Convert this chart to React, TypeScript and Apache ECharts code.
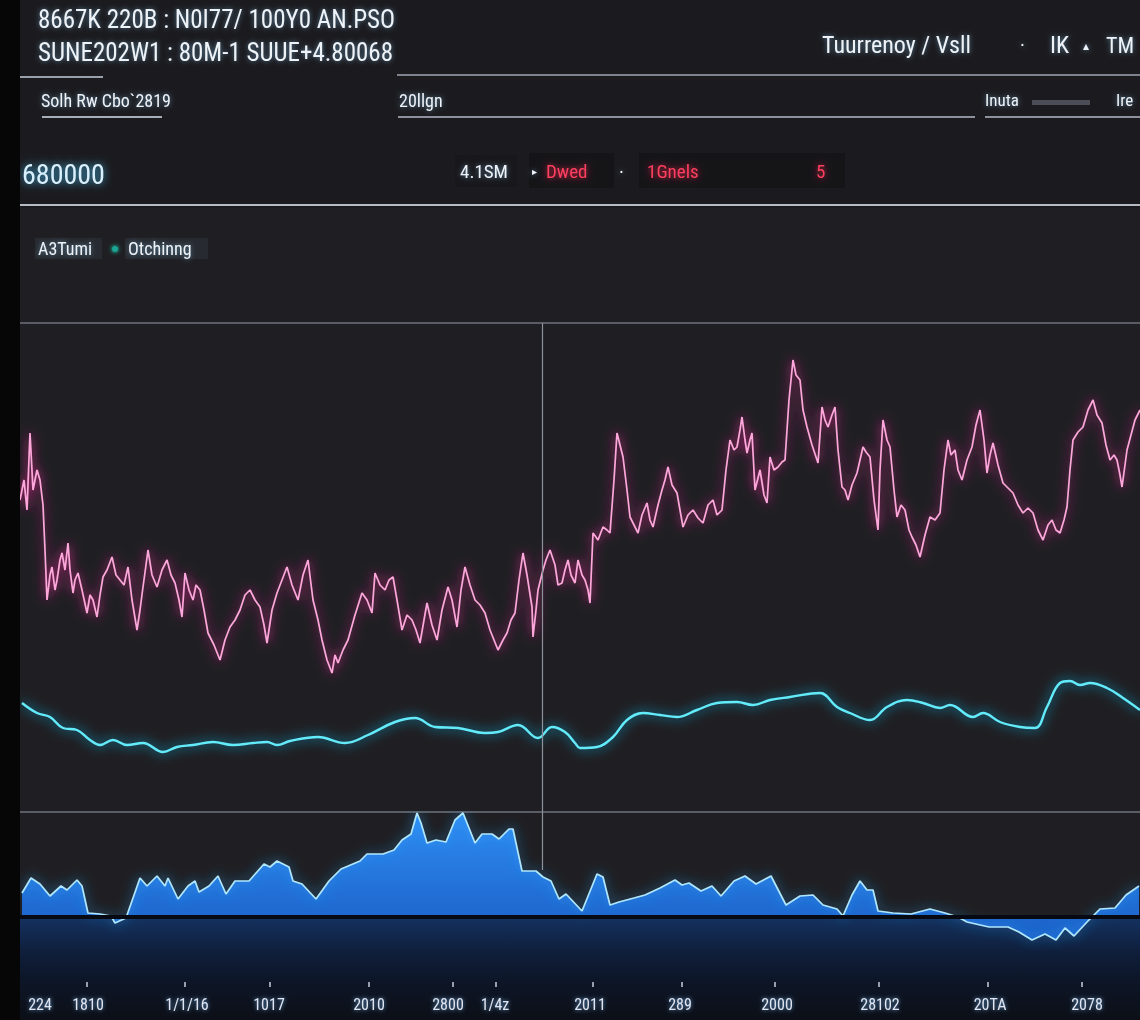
import React, { useEffect, useRef } from "react";
import * as echarts from "echarts";

// ---------- DATA ----------
// price series (pink): [day, price]
const price: [number, number][] = [
  [20,312],[24,332],[27,302],[30,379],[33,322],[37,342],[40,332],[43,307],[45,262],[47,212],[50,237],[52,245],[55,222],[57,232],[60,252],[62,259],[65,242],[68,269],[70,242],[73,219],[75,232],[78,239],[82,222],[87,199],[90,217],[93,212],[97,195],[100,217],[103,235],[107,242],[112,255],[116,237],[120,232],[124,227],[128,245],[132,212],[137,182],[140,202],[143,225],[146,247],[148,262],[152,237],[157,225],[162,242],[167,252],[171,237],[175,229],[179,212],[182,195],[185,239],[189,222],[193,212],[196,227],[200,222],[204,202],[208,179],[214,167],[220,152],[225,172],[230,185],[235,192],[240,202],[245,217],[250,222],[255,212],[260,205],[264,187],[267,169],[272,202],[277,219],[282,232],[287,245],[292,227],[298,212],[303,237],[308,252],[313,212],[318,192],[322,172],[327,152],[332,139],[335,157],[338,149],[343,162],[348,172],[355,197],[362,219],[367,212],[372,199],[375,239],[380,227],[385,222],[389,232],[393,235],[397,212],[402,182],[407,197],[412,192],[416,182],[420,169],[424,192],[427,209],[432,187],[437,172],[442,202],[448,225],[452,212],[457,185],[461,222],[465,245],[470,227],[475,212],[480,207],[485,199],[490,182],[494,172],[498,162],[503,172],[507,179],[511,192],[515,199],[519,232],[523,259],[527,237],[532,205],[533,175],[536,202],[538,222],[543,242],[546,252],[550,262],[555,247],[558,227],[562,229],[565,242],[568,252],[571,237],[575,229],[578,252],[582,237],[585,232],[588,222],[590,209],[593,279],[598,272],[603,285],[607,282],[610,279],[614,332],[617,379],[620,367],[623,355],[627,322],[630,295],[634,287],[638,279],[642,297],[647,309],[650,292],[653,285],[658,307],[662,322],[665,332],[668,345],[672,327],[677,319],[680,302],[683,285],[688,297],[693,302],[698,294],[703,289],[708,307],[713,312],[717,297],[722,302],[726,342],[730,372],[734,362],[737,365],[740,382],[742,395],[745,372],[747,359],[750,372],[752,379],[755,322],[760,342],[764,317],[767,309],[770,355],[774,342],[778,345],[782,350],[785,352],[789,412],[793,452],[796,437],[800,432],[803,402],[807,385],[812,367],[818,349],[822,405],[825,392],[828,385],[832,397],[835,405],[838,362],[842,325],[845,322],[848,312],[852,327],[857,339],[860,352],[863,365],[866,360],[870,355],[874,312],[878,282],[880,342],[883,392],[887,372],[890,365],[894,322],[897,295],[901,307],[905,302],[909,282],[912,275],[916,267],[920,255],[925,277],[930,295],[935,292],[940,299],[944,342],[948,372],[951,357],[955,362],[958,342],[962,332],[967,352],[972,365],[976,387],[980,402],[984,372],[987,339],[990,357],[993,369],[998,347],[1003,329],[1008,324],[1013,319],[1018,307],[1023,299],[1028,304],[1033,299],[1038,282],[1043,272],[1048,287],[1052,292],[1056,282],[1060,279],[1064,292],[1067,305],[1070,342],[1073,372],[1078,380],[1083,385],[1088,402],[1093,412],[1097,397],[1102,389],[1106,367],[1110,352],[1114,357],[1117,352],[1120,337],[1122,325],[1125,347],[1127,362],[1131,377],[1135,392],[1140,402]
];

// trend series (cyan): [day, value]
const trend: [number, number][] = [
  [22,109],[37,99],[50,95],[63,84],[77,82],[90,72],[100,67],[113,72],[127,67],[143,69],[163,60],[177,65],[193,67],[213,70],[233,67],[253,69],[267,70],[277,67],[290,71],[318,75],[345,69],[368,77],[395,90],[415,94],[435,85],[458,84],[485,79],[498,80],[518,87],[538,74],[552,85],[565,80],[575,69],[580,64],[597,65],[613,75],[627,92],[643,99],[660,97],[677,95],[697,102],[717,109],[737,110],[753,107],[770,112],[790,115],[820,119],[837,105],[850,99],[870,92],[887,105],[907,112],[923,109],[940,104],[950,107],[973,95],[983,99],[1000,90],[1020,85],[1035,84],[1047,105],[1060,129],[1070,131],[1080,127],[1090,129],[1107,124],[1123,114],[1140,102]
];

// volume series (blue area): [day, volume]
const volume: [number, number][] = [
  [22,24],[31,39],[40,33],[50,21],[61,31],[67,27],[77,37],[82,31],[88,4],[100,3],[111,1],[115,-6],[126,-1],[140,39],[147,31],[157,41],[165,31],[168,39],[178,18],[188,31],[195,36],[199,25],[209,31],[218,41],[226,23],[235,36],[249,36],[264,53],[270,50],[277,56],[289,50],[293,36],[302,33],[316,18],[329,36],[341,48],[360,56],[367,63],[383,63],[394,67],[402,77],[411,83],[417,104],[421,94],[427,74],[436,77],[446,75],[455,97],[463,104],[475,74],[482,83],[492,83],[499,78],[509,88],[513,88],[522,46],[536,46],[543,40],[551,36],[559,18],[566,23],[582,6],[597,43],[603,40],[610,12],[619,15],[634,19],[645,22],[660,29],[675,37],[682,32],[689,34],[701,26],[712,31],[721,21],[734,36],[745,41],[756,33],[771,41],[786,12],[800,21],[813,22],[823,12],[837,8],[843,1],[852,22],[860,36],[867,27],[873,27],[878,6],[893,4],[911,3],[930,8],[945,4],[958,0],[967,-5],[989,-10],[1008,-10],[1019,-15],[1032,-23],[1045,-17],[1056,-23],[1065,-11],[1074,-19],[1087,-5],[1100,8],[1115,9],[1126,22],[1139,31]
];

const tickDays = [87, 185, 270, 369, 453, 496, 593, 682, 775, 879, 988, 1082];
const labelDays = [40, 88, 187, 269, 369, 448, 495, 590, 680, 777, 880, 990, 1087];
const tickLabels = ["224", "1810", "1/1/16", "1017", "2010", "2800", "1/4z", "2011", "289", "2000", "28102", "20TA", "2078"];
const crosshairDay = 542;

const headerLine1 = "8667K 220B : N0I77/ 100Y0 AN.PSO";
const headerLine2 = "SUNE202W1 : 80M-1 SUUE+4.80068";
const headerRight = ["Tuurrenoy / Vsll", "·", "IK", "▴", "TM"];
const subRow = ["Solh Rw Cbo`2819", "20llgn", "Inuta", "Ire"];
const bigValue = "680000";
const statusItems = ["4.1SM", "Dwed", "·", "1Gnels", "5"];
const legendNames = ["A3Tumi", "Otchinng"];

// ---------- STYLE ----------
const FONT = "'Liberation Sans Narrow', 'Roboto Condensed', Roboto, sans-serif";
const WHITE = "#eef3f8";
const RED = "#ff3f60";

function txt(text: string, x: number, y: number, size: number, fill: string, o: any = {}) {
  return {
    type: "text",
    x,
    y,
    z: 20,
    scaleX: o.sx ?? 1,
    style: {
      text,
      fill,
      font: `${o.weight || "normal"} ${size}px ${FONT}`,
      align: o.align || "left",
      verticalAlign: "middle",
      textShadowColor: o.glow || "rgba(140,210,255,0.55)",
      textShadowBlur: o.blur ?? 5,
    },
  };
}
function hline(x1: number, x2: number, y: number, stroke: string, w = 2) {
  return { type: "line", z: 15, shape: { x1, y1: y, x2, y2: y }, style: { stroke, lineWidth: w } };
}
function box(x: number, y: number, w: number, h: number, fill: string) {
  return { type: "rect", z: 12, shape: { x, y, width: w, height: h }, style: { fill } };
}

function buildOption() {
  const graphic: any[] = [
    // panel backgrounds
    { type: "rect", z: -10, shape: { x: 20, y: 0, width: 1120, height: 208 }, style: { fill: "#1b1b1f" } },
    {
      type: "rect", z: -10, shape: { x: 20, y: 917, width: 1120, height: 103 },
      style: {
        fill: new echarts.graphic.LinearGradient(0, 0, 0, 1, [
          { offset: 0, color: "#143260" },
          { offset: 0.35, color: "#0f1e3a" },
          { offset: 0.65, color: "#0d1526" },
          { offset: 1, color: "#0c0f16" },
        ]),
      },
    },
    { type: "rect", z: 100, shape: { x: 0, y: 0, width: 20, height: 1020 }, style: { fill: "#060607" } },

    // header lines
    txt(headerLine1, 38, 19, 25, WHITE),
    txt(headerLine2, 38, 52, 25, WHITE),
    hline(20, 103, 77, "#9aa0aa"),
    hline(397, 1140, 75, "#7d828c"),
    txt(headerRight[0], 822, 45, 24, WHITE),
    txt(headerRight[1], 1020, 45, 20, WHITE),
    txt(headerRight[2], 1050, 45, 24, WHITE),
    txt(headerRight[3], 1083, 46, 12, WHITE),
    txt(headerRight[4], 1106, 45, 22, WHITE),

    // sub row
    txt(subRow[0], 41, 100, 18, WHITE),
    hline(42, 162, 117, "#a8aeb8"),
    txt(subRow[1], 399, 100, 18, WHITE),
    hline(398, 975, 117, "#8c919b"),
    txt(subRow[2], 985, 100, 17, WHITE),
    box(1032, 100, 58, 5, "#4b4e57"),
    txt(subRow[3], 1116, 100, 17, WHITE),
    hline(985, 1140, 117, "#8c919b"),

    // status row
    txt(bigValue, 22, 174, 28, "#d8f1ff", { glow: "rgba(70,200,255,0.9)", blur: 8 }),
    box(455, 155, 62, 32, "#18181c"),
    box(529, 153, 85, 35, "#151518"),
    box(639, 153, 206, 35, "#151518"),
    txt(statusItems[0], 460, 171, 19, WHITE),
    txt("▸", 532, 171, 10, WHITE),
    txt(statusItems[1], 546, 171, 19, RED, { glow: "rgba(255,40,80,0.85)", blur: 7 }),
    txt(statusItems[2], 619, 172, 20, WHITE),
    txt(statusItems[3], 647, 171, 19, RED, { glow: "rgba(255,40,80,0.85)", blur: 7 }),
    txt(statusItems[4], 816, 171, 19, RED, { glow: "rgba(255,40,80,0.85)", blur: 7 }),
    hline(20, 1140, 205, "#b6bac2", 2),

    // legend
    box(35, 238, 67, 21, "#272a30"),
    box(125, 238, 83, 21, "#272a30"),
    txt(legendNames[0], 38, 248, 18, WHITE),
    { type: "circle", z: 20, shape: { cx: 115, cy: 249, r: 3 }, style: { fill: "#1aa596", shadowColor: "#1affd0", shadowBlur: 4 } },
    txt(legendNames[1], 128, 248, 18, WHITE),
  ];

  return {
    animation: false,
    backgroundColor: "#1f1f23",
    graphic,
    grid: [
      { left: 20, right: 0, top: 323, height: 489 },
      { left: 20, right: 0, top: 812, height: 170 },
    ],
    xAxis: [
      { type: "value", gridIndex: 0, min: 20, max: 1140, show: false },
      {
        type: "value", gridIndex: 1, min: 20, max: 1140,
        axisLine: { show: true, onZero: false, lineStyle: { color: "#c9ced8", width: 2, shadowColor: "rgba(150,200,255,0.6)", shadowBlur: 4 } },
        axisTick: { show: true, length: 5, customValues: tickDays, lineStyle: { color: "#c9ced8", width: 1.5 } },
        axisLabel: {
          show: true,
          customValues: labelDays,
          formatter: (v: number) => {
            const i = labelDays.indexOf(Math.round(v));
            return i >= 0 ? tickLabels[i] : "";
          },
          color: "#dfe6f2",
          fontSize: 16,
          fontFamily: FONT,
          margin: 14,
          textShadowColor: "rgba(120,190,255,0.8)",
          textShadowBlur: 4,
        },
        splitLine: { show: false },
      },
    ],
    yAxis: [
      {
        type: "value", gridIndex: 0, min: 0, max: 489, interval: 489,
        axisLabel: { show: false }, axisLine: { show: false }, axisTick: { show: false },
        splitLine: { show: true, lineStyle: { color: "#6f737c", width: 1.5 } },
      },
      { type: "value", gridIndex: 1, min: -65, max: 105, show: false, splitLine: { show: false } },
    ],
    series: [
      {
        name: legendNames[1],
        type: "line",
        xAxisIndex: 0, yAxisIndex: 0,
        data: trend,
        smooth: 0.4,
        showSymbol: false,
        z: 3,
        lineStyle: { color: "#62ecfb", width: 2.4, shadowColor: "#19c8ff", shadowBlur: 12 },
      },
      {
        name: legendNames[0],
        type: "line",
        xAxisIndex: 0, yAxisIndex: 0,
        data: price,
        showSymbol: false,
        z: 4,
        lineStyle: { color: "#ffa6dc", width: 1.7, shadowColor: "rgba(255,40,160,1)", shadowBlur: 12 },
        markLine: {
          silent: true, symbol: ["none", "none"], label: { show: false },
          lineStyle: { color: "#8d919b", width: 1.2, type: "solid" },
          data: [{ xAxis: crosshairDay }],
        },
      },
      {
        name: "volume",
        type: "line",
        xAxisIndex: 1, yAxisIndex: 1,
        data: volume,
        showSymbol: false,
        z: 4,
        lineStyle: { color: "#aee8ff", width: 1.7, shadowColor: "#2aa8ff", shadowBlur: 12 },
        areaStyle: {
          origin: 0,
          color: new echarts.graphic.LinearGradient(0, 0, 0, 1, [
            { offset: 0, color: "#2f8cf2" },
            { offset: 1, color: "#1a5fc6" },
          ]),
          opacity: 1,
        },
        markLine: {
          silent: true, symbol: ["none", "none"], label: { show: false },
          data: [
            { yAxis: 0, lineStyle: { color: "#070a12", width: 4, type: "solid" } },
            [
              { coord: [crosshairDay, 105], lineStyle: { color: "#8d919b", width: 1.2, type: "solid" } },
              { coord: [crosshairDay, 47] },
            ],
          ],
        },
      },
    ],
  };
}

export default function App() {
  const ref = useRef<HTMLDivElement>(null);
  useEffect(() => {
    if (!ref.current) return;
    const chart = echarts.init(ref.current, null, { renderer: "svg" });
    chart.setOption(buildOption() as any);
    return () => chart.dispose();
  }, []);
  return (
    <div style={{ position: "fixed", left: 0, top: 0, width: 1140, height: 1020, background: "#000" }}>
      <div ref={ref} style={{ width: 1140, height: 1020 }} />
    </div>
  );
}
